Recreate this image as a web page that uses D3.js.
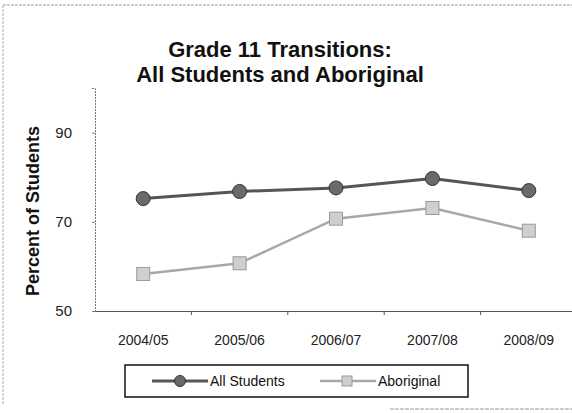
<!DOCTYPE html>
<html>
<head>
<meta charset="utf-8">
<script src="https://cdn.jsdelivr.net/npm/d3@7"></script>
<style>
  body { margin: 0; background: #fff; }
  svg { display: block; font-family: "Liberation Sans", Arial, sans-serif; }
</style>
</head>
<body>
<svg id="chart" width="572" height="413"></svg>
<script>
const years = ['2004/05', '2005/06', '2006/07', '2007/08', '2008/09'];
const allStudents = [75.2, 76.8, 77.6, 79.7, 77.0];
const aboriginal = [58.3, 60.7, 70.7, 73.1, 68.0];
const yTicks = [50, 70, 90];

const margin = { top: 88, right: -5, bottom: 102, left: 95 };
const width = 572 - margin.left - margin.right;
const height = 413 - margin.top - margin.bottom;

const svg = d3.select('#chart');

// scanned page frame
svg.append('line').attr('x1', 3).attr('x2', 572).attr('y1', 5).attr('y2', 5)
  .attr('stroke', '#999').attr('stroke-dasharray', '3,1');
svg.append('line').attr('x1', 3).attr('x2', 3).attr('y1', 5).attr('y2', 405)
  .attr('stroke', '#aaa').attr('stroke-dasharray', '3,1');
svg.append('line').attr('x1', 390).attr('x2', 572).attr('y1', 409).attr('y2', 409)
  .attr('stroke', '#999').attr('stroke-dasharray', '4,1');

svg.append('text')
  .attr('x', 280).attr('y', 57)
  .attr('text-anchor', 'middle')
  .style('font-size', '22px').style('font-weight', 'bold').attr('fill', '#111')
  .text('Grade 11 Transitions:');
svg.append('text')
  .attr('x', 280).attr('y', 82)
  .attr('text-anchor', 'middle')
  .style('font-size', '22px').style('font-weight', 'bold').attr('fill', '#111')
  .text('All Students and Aboriginal');

const g = svg.append('g').attr('transform', `translate(${margin.left},${margin.top})`);

const x = d3.scaleBand().domain(years).range([0, width]);
const y = d3.scaleLinear().domain([50, 100]).range([height, 0]);

const xAxis = g.append('g')
  .attr('transform', `translate(0,${height})`)
  .call(d3.axisBottom(x).tickSize(0).tickPadding(24));
xAxis.select('.domain').attr('stroke', '#555');
xAxis.selectAll('text').style('font-size', '14px').style('font-family', '"Liberation Sans", Arial, sans-serif').attr('fill', '#222');
// tick marks between categories
g.append('g').selectAll('line')
  .data(years.slice(1))
  .enter().append('line')
  .attr('x1', (d) => x(d)).attr('x2', (d) => x(d))
  .attr('y1', height).attr('y2', height + 4)
  .attr('stroke', '#555');

const yAxis = g.append('g')
  .call(d3.axisLeft(y).tickValues(yTicks).tickSize(3).tickPadding(20));
yAxis.select('.domain').attr('stroke', '#777').attr('stroke-dasharray', '2,1');
yAxis.selectAll('.tick line').attr('stroke', '#777');
yAxis.selectAll('text').style('font-size', '15px').style('font-family', '"Liberation Sans", Arial, sans-serif').attr('fill', '#222');

svg.append('text')
  .attr('transform', 'translate(39,211) rotate(-90)')
  .attr('text-anchor', 'middle')
  .style('font-size', '18px').style('font-weight', 'bold').attr('fill', '#111')
  .text('Percent of Students');

const cx = (i) => x(years[i]) + x.bandwidth() / 2;
const line = d3.line().x((d, i) => cx(i)).y((d) => y(d));

g.append('path').datum(aboriginal)
  .attr('d', line).attr('fill', 'none')
  .attr('stroke', '#a8a8a8').attr('stroke-width', 2.5);
g.append('g').selectAll('rect')
  .data(aboriginal)
  .enter().append('rect')
  .attr('x', (d, i) => cx(i) - 6.5).attr('y', (d) => y(d) - 6.5)
  .attr('width', 13).attr('height', 13)
  .attr('fill', '#cfcfcf').attr('stroke', '#9a9a9a').attr('stroke-width', 1);

g.append('path').datum(allStudents)
  .attr('d', line).attr('fill', 'none')
  .attr('stroke', '#555').attr('stroke-width', 3);
g.append('g').selectAll('circle')
  .data(allStudents)
  .enter().append('circle')
  .attr('cx', (d, i) => cx(i)).attr('cy', (d) => y(d))
  .attr('r', 7)
  .attr('fill', '#6a6a6a').attr('stroke', '#333').attr('stroke-width', 1);

// legend
const legend = svg.append('g');
legend.append('rect')
  .attr('x', 125).attr('y', 365).attr('width', 343).attr('height', 32)
  .attr('fill', '#fff').attr('stroke', '#111').attr('stroke-width', 1.5);

const items = [
  { name: 'All Students', x: 152, color: '#555', width: 3 },
  { name: 'Aboriginal', x: 320, color: '#a8a8a8', width: 2.5 }
];
const item = legend.selectAll('.item').data(items).enter().append('g')
  .attr('transform', (d) => `translate(${d.x},381)`);
item.append('line')
  .attr('x1', 0).attr('x2', 56)
  .attr('stroke', (d) => d.color).attr('stroke-width', (d) => d.width);
item.filter((d, i) => i === 0).append('circle')
  .attr('cx', 28).attr('r', 5.5)
  .attr('fill', '#6a6a6a').attr('stroke', '#333');
item.filter((d, i) => i === 1).append('rect')
  .attr('x', 22).attr('y', -5).attr('width', 10).attr('height', 10)
  .attr('fill', '#cfcfcf').attr('stroke', '#9a9a9a');
item.append('text')
  .attr('x', 58).attr('y', 5)
  .style('font-size', '14px').attr('fill', '#111')
  .text((d) => d.name);
</script>
</body>
</html>
